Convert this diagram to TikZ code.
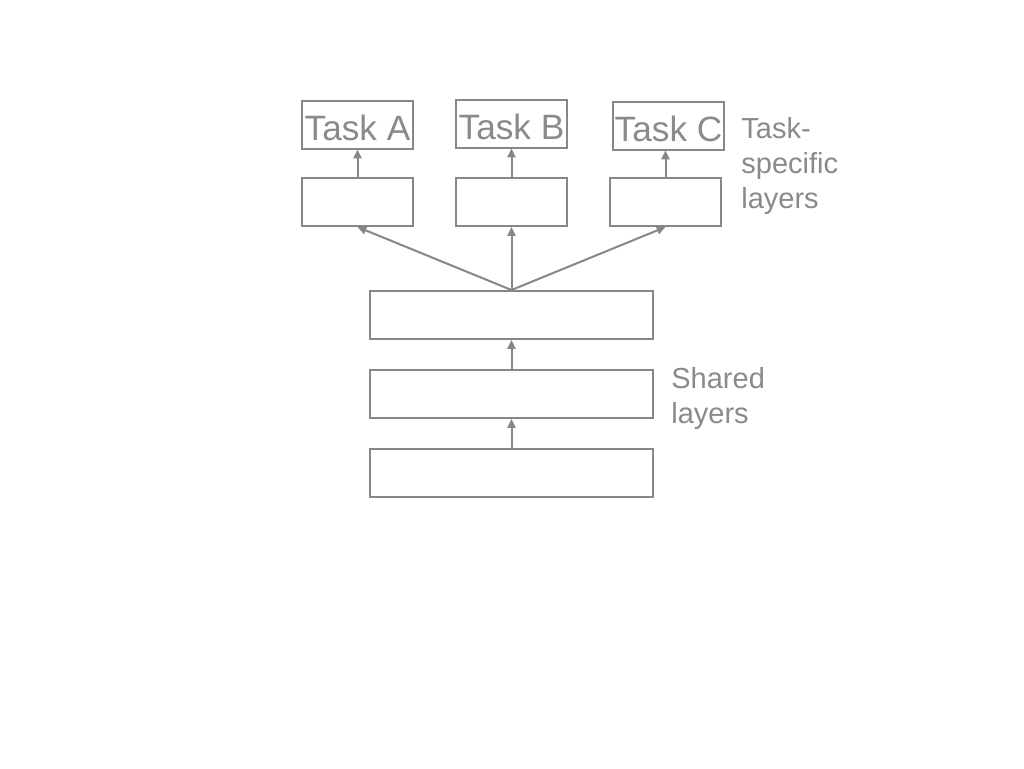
\documentclass[tikz,border=0pt]{standalone}
\usepackage{fontspec}
\setmainfont{Liberation Sans}
\usetikzlibrary{arrows.meta}
\definecolor{linegray}{HTML}{86868B}
\definecolor{textgray}{HTML}{8A8A8E}

\begin{document}
\begin{tikzpicture}[x=0.5pt,y=-0.5pt,
  layer/.style={draw=linegray,line width=1pt,inner sep=0pt,minimum height=24pt},
  tasklayer/.style={layer,minimum width=55.5pt},
  sharedlayer/.style={layer,minimum width=141.5pt},
  taskout/.style={tasklayer,text=textgray,text height=15.5pt,text depth=0pt,font=\fontsize{17.6pt}{20pt}\selectfont},
  up/.style={draw=linegray,line width=1pt,-{Triangle[length=4.4pt,width=4pt]}},
  note/.style={text=textgray,inner sep=0pt,align=left,anchor=north west,font=\fontsize{14.5pt}{17.5pt}\selectfont}]
\useasboundingbox (0,0) rectangle (1024,768);

% shared layers
\node[sharedlayer] (s1) at (511.5,473) {};
\node[sharedlayer] (s2) at (511.5,394) {};
\node[sharedlayer] (s3) at (511.5,315) {};

% task-specific layers
\node[tasklayer] (ha) at (357.5,202) {};
\node[tasklayer] (hb) at (511.5,202) {};
\node[tasklayer] (hc) at (665.5,202) {};

% outputs
\node[taskout] (ta) at (357.5,124.5) {Task A};
\node[taskout] (tb) at (511.5,123.5) {Task B};
\node[taskout] (tc) at (668.5,125.5) {Task C};

\draw[up] (s1.north) -- (s2.south);
\draw[up] (s2.north) -- (s3.south);
\draw[up] (s3.north) -- (ha.south);
\draw[up] (s3.north) -- (hb.south);
\draw[up] (s3.north) -- (hc.south);
\draw[up] (ha.north) -- (ta.south);
\draw[up] (hb.north) -- (tb.south);
\draw[up] (hc.north) -- (tc.south -| hc.north);

\node[note] (tasknote) at (741,117) {Task-\\specific\\layers};
\node[note] (sharednote) at (671,367) {Shared\\layers};

\end{tikzpicture}
\end{document}
